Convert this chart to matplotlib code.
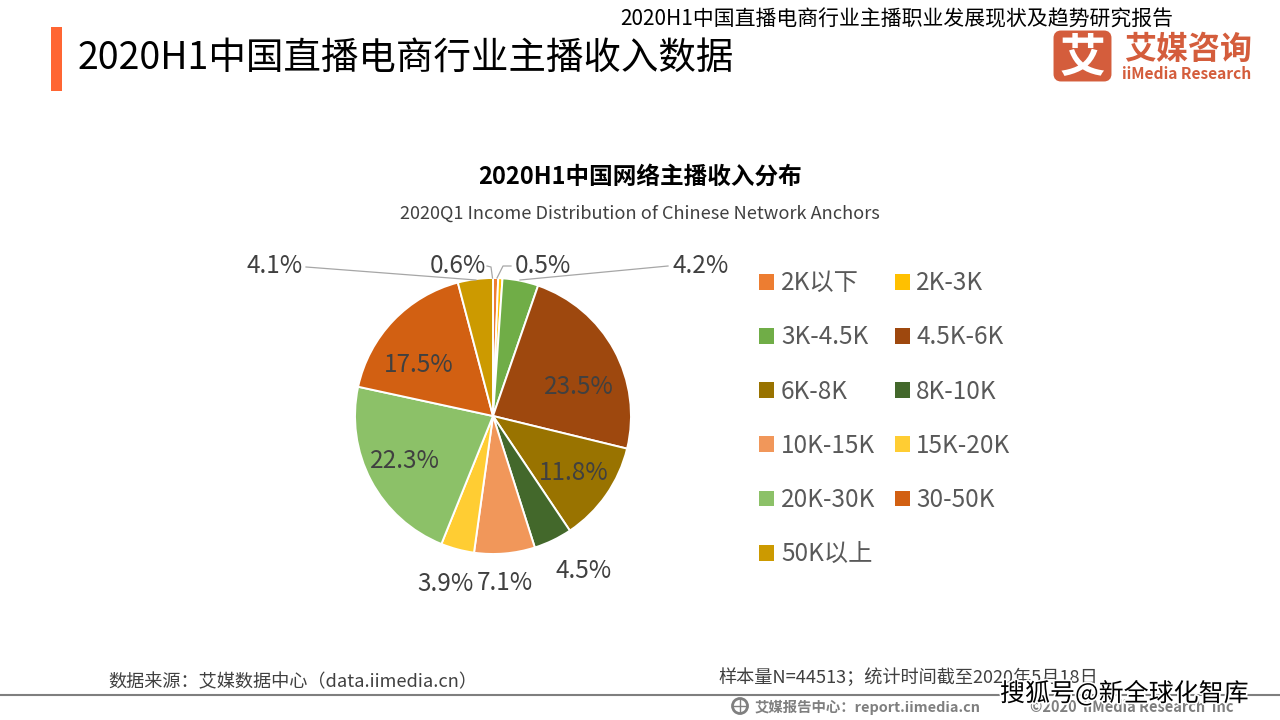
import matplotlib
matplotlib.use('Agg')
import matplotlib.pyplot as plt
import matplotlib.patheffects as pe
from matplotlib.patches import Rectangle, FancyBboxPatch, Circle

plt.rcParams['font.family'] = ['Noto Sans CJK SC', 'DejaVu Sans']

# data
categories = ['2K以下', '2K-3K', '3K-4.5K', '4.5K-6K', '6K-8K', '8K-10K',
              '10K-15K', '15K-20K', '20K-30K', '30-50K', '50K以上']
shares = [0.6, 0.5, 4.2, 23.5, 11.8, 4.5, 7.1, 3.9, 22.3, 17.5, 4.1]
colors = ['#ED7D31', '#FFC000', '#70AD47', '#9E480E', '#997300', '#43682B',
          '#F1975A', '#FFCD33', '#8CC168', '#D26012', '#CC9A00']

# label centres in pixels, same order as shares
label_pos = [(458, 266), (543, 266), (701, 266), (579, 387), (574, 473), (584, 571),
             (505, 583), (445, 584), (405, 461), (419, 365), (275, 266)]

W, H = 1280, 720
TEXT = '#404040'

fig = plt.figure(figsize=(12.8, 7.2), dpi=100, facecolor='white')

# pie, axes sized so that the radius comes out at 138 px
ax = fig.add_axes([(493 - 140) / W, 1 - (416 + 140) / H, 280 / W, 280 / H])
wedges, _ = ax.pie(shares, colors=colors, startangle=90, counterclock=False, radius=138 / 140,
                   wedgeprops={'edgecolor': 'white', 'linewidth': 1.4})
ax.set_xlim(-1, 1)
ax.set_ylim(-1, 1)

# overlay in pixel coordinates for the page furniture, on top of the pie
page = fig.add_axes([0, 0, 1, 1], zorder=5)
page.set_xlim(0, W)
page.set_ylim(H, 0)
page.axis('off')

# header
page.add_patch(Rectangle((51, 27), 11, 64, color='#FF6633', lw=0))
page.text(78, 58, '2020H1中国直播电商行业主播收入数据', fontsize=27, fontweight='medium', color='black', va='center')
page.text(620, 19, '2020H1中国直播电商行业主播职业发展现状及趋势研究报告', fontsize=15, color='black', va='center')

# logo
page.add_patch(FancyBboxPatch((1057, 34), 51, 44, boxstyle='round,pad=0,rounding_size=4',
                              fc='#D45D3C', ec='#D45D3C', lw=5))
page.text(1082.5, 58, '艾', fontsize=33, fontweight='bold', color='white', ha='center', va='center')
page.text(1188, 50, '艾媒咨询', fontsize=23, fontweight='bold', color='#D45D3C', ha='center', va='center')
page.text(1187, 74, 'iiMedia Research', fontsize=11.2, fontweight='bold', color='#D45D3C', ha='center', va='center')

# chart titles
page.text(640, 177, '2020H1中国网络主播收入分布', fontsize=17, fontweight='bold', color='black', ha='center', va='center')
page.text(640, 214, '2020Q1 Income Distribution of Chinese Network Anchors', fontsize=13.1, color=TEXT, ha='center', va='center')

# value labels
for val, (x, y) in zip(shares, label_pos):
    page.text(x, y, f'{val}%', fontsize=17.5, color=TEXT, ha='center', va='center', zorder=5)

# leader lines
leaders = [([487, 491, 492.5], [266, 267, 278]), ([511, 503, 497], [266, 266, 278]),
           ([668, 520], [266, 280]), ([306, 476], [267, 280])]
for xs, ys in leaders:
    page.plot(xs, ys, color='#A6A6A6', lw=0.9)

# legend, filled row by row as in the reference
left = list(range(0, len(categories), 2))
right = list(range(1, len(categories), 2))
order = left + right
leg = fig.legend([wedges[i] for i in order], [categories[i] for i in order],
                 ncol=2, loc='upper left', bbox_to_anchor=(752 / W, 1 - 263 / H),
                 frameon=False, fontsize=17.5, labelcolor='#595959',
                 handlelength=0.62, handleheight=0.62, handletextpad=0.27,
                 labelspacing=1.16, columnspacing=0.79, borderpad=0.3, borderaxespad=0)
for h in leg.legend_handles:
    h.set_edgecolor('none')

# footer
page.plot([0, W], [695, 695], color='#7F7F7F', lw=1.5)
page.text(108, 682, '数据来源：艾媒数据中心（data.iimedia.cn）', fontsize=13.1, color=TEXT, va='center')
page.text(718, 678, '样本量N=44513；统计时间截至2020年5月18日', fontsize=13.1, color=TEXT, va='center')
page.text(755, 707, '艾媒报告中心：report.iimedia.cn', fontsize=10.4, fontweight='bold', color='#7F7F7F', va='center')
page.text(1030, 707, '©2020  iiMedia Research  Inc', fontsize=10.5, fontweight='bold', color='#7F7F7F', va='center')
page.add_patch(Circle((740, 706), 7.5, fc='white', ec='#7F7F7F', lw=2))
page.plot([733, 747], [706, 706], color='#7F7F7F', lw=1)
page.plot([740, 740], [699, 713], color='#7F7F7F', lw=1)

# watermark
page.text(1000, 694, '搜狐号@新全球化智库', fontsize=18, color='black', va='center', zorder=6,
          path_effects=[pe.withStroke(linewidth=2.5, foreground='white')])

fig.savefig('out.png', dpi=100)
